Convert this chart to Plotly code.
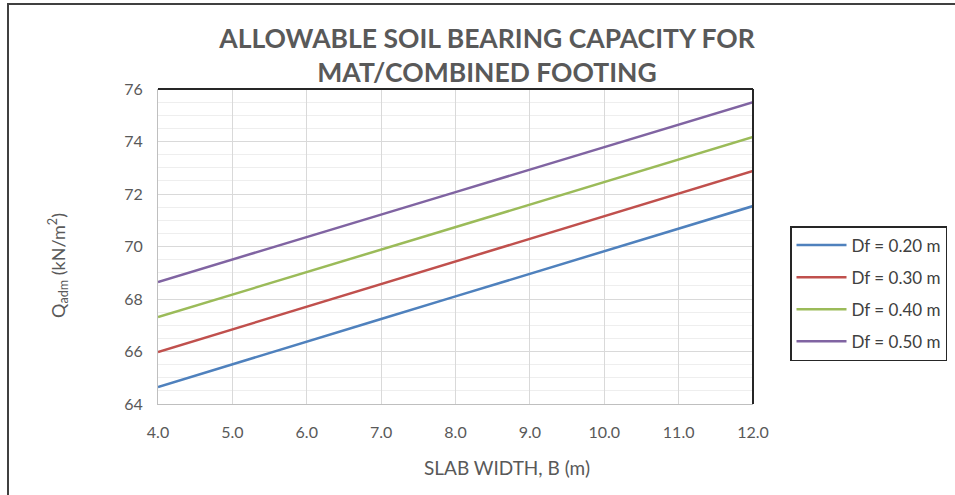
import plotly.graph_objects as go

slab_width = [4.0, 5.0, 6.0, 7.0, 8.0, 9.0, 10.0, 11.0, 12.0]
df_020 = [64.65, 65.52, 66.38, 67.24, 68.10, 68.96, 69.82, 70.68, 71.54]
df_030 = [65.98, 66.84, 67.71, 68.57, 69.43, 70.30, 71.16, 72.02, 72.88]
df_040 = [67.31, 68.17, 69.03, 69.89, 70.74, 71.60, 72.46, 73.31, 74.17]
df_050 = [68.65, 69.50, 70.36, 71.22, 72.07, 72.93, 73.79, 74.64, 75.50]
series_names = ["Df = 0.20 m", "Df = 0.30 m", "Df = 0.40 m", "Df = 0.50 m"]
series_values = [df_020, df_030, df_040, df_050]
colors = ["#4F81BD", "#C0504D", "#9BBB59", "#8064A2"]
x_ticks = [4, 5, 6, 7, 8, 9, 10, 11, 12]
x_tick_labels = ["4.0", "5.0", "6.0", "7.0", "8.0", "9.0", "10.0", "11.0", "12.0"]
y_ticks = [64, 66, 68, 70, 72, 74, 76]

FONT = "Lato, Open Sans, sans-serif"

fig = go.Figure()
for name, vals, c in zip(series_names, series_values, colors):
    fig.add_trace(go.Scatter(x=slab_width, y=vals, mode="lines", name=name,
                             legendgroup=name,
                             line=dict(color=c, width=2.5)))

W, H = 955, 495
L, R, T, B = 158, 202, 89, 91
pw, ph = W - L - R, H - T - B

def px_to_paper_x(px):
    return (px - L) / pw

def px_to_paper_y(py):
    return (H - B - py) / ph

fig.update_layout(
    width=W, height=H,
    margin=dict(l=L, r=R, t=T, b=B, autoexpand=False),
    paper_bgcolor="white", plot_bgcolor="white",
    font=dict(family=FONT, color="#595959", size=16),
    title=dict(text="<b>ALLOWABLE SOIL BEARING CAPACITY FOR<br>MAT/COMBINED FOOTING</b>",
               x=487 / W, xanchor="center", y=1 - 48 / H, yanchor="middle",
               font=dict(size=26.5, color="#595959", family=FONT)),
    xaxis=dict(range=[4, 12], tickvals=x_ticks, ticktext=x_tick_labels,
               showgrid=True, gridcolor="#D9D9D9", gridwidth=1,
               showline=True, linecolor="#BFBFBF", linewidth=1,
               ticks="", zeroline=False, ticklabelstandoff=14,
               tickfont=dict(size=16)),
    yaxis=dict(range=[64, 76], tickvals=y_ticks,
               showgrid=True, gridcolor="#D9D9D9", gridwidth=1,
               minor=dict(dtick=0.5, showgrid=True, gridcolor="#EEEEEE", gridwidth=1),
               showline=True, linecolor="#BFBFBF", linewidth=1,
               ticks="", zeroline=False, ticklabelstandoff=11,
               tickfont=dict(size=16)),
    legend=dict(x=px_to_paper_x(790), y=px_to_paper_y(226), xanchor="left", yanchor="top",
                bordercolor="#262626", borderwidth=1.5, bgcolor="white",
                font=dict(size=17, color="#404040", family=FONT), tracegroupgap=7,
                itemwidth=50),
    showlegend=True,
    annotations=[
        dict(text="SLAB WIDTH, B (m)", xref="paper", yref="paper",
             x=px_to_paper_x(507), y=px_to_paper_y(467), xanchor="center", yanchor="middle",
             showarrow=False, font=dict(size=19, color="#595959", family=FONT)),
        dict(text="Q<sub>adm</sub> (kN/m<sup>2</sup>)", xref="paper", yref="paper",
             x=px_to_paper_x(58), y=px_to_paper_y(265), xanchor="center", yanchor="middle",
             textangle=-90, showarrow=False,
             font=dict(size=18, color="#595959", family=FONT)),
    ],
    shapes=[
        dict(type="line", xref="paper", yref="paper", x0=0, x1=1, y0=1, y1=1,
             line=dict(color="#262626", width=2)),
        dict(type="line", xref="paper", yref="paper", x0=1, x1=1, y0=0, y1=1,
             line=dict(color="#262626", width=2)),
        dict(type="rect", xref="paper", yref="paper",
             x0=px_to_paper_x(8), x1=px_to_paper_x(1100),
             y0=px_to_paper_y(600), y1=px_to_paper_y(4),
             line=dict(color="#404040", width=2), layer="below"),
    ],
)

fig.write_html("out.html", config={"displayModeBar": False},
               post_script="document.body.style.margin='0';")
